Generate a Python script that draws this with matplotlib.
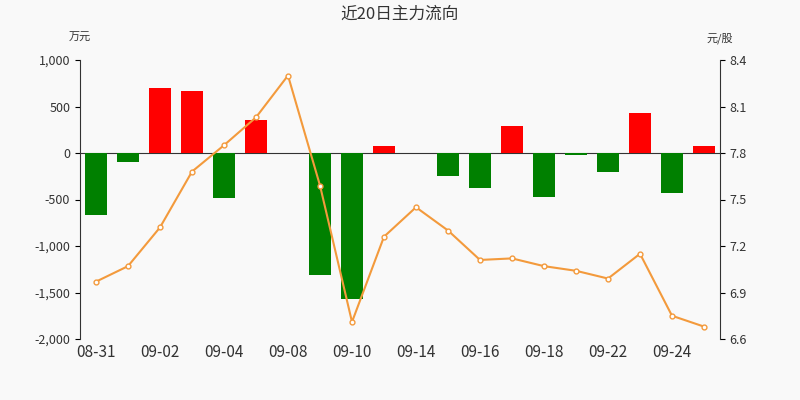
import matplotlib.pyplot as plt
import numpy as np

plt.rcParams['font.family'] = ['Noto Sans CJK SC', 'DejaVu Sans']

dates = ["08-31", "09-01", "09-02", "09-03", "09-04", "09-07", "09-08", "09-09", "09-10", "09-11",
         "09-14", "09-15", "09-16", "09-17", "09-18", "09-21", "09-22", "09-23", "09-24", "09-25"]
flow = [-667, -100, 700, 665, -480, 355, 0, -1310, -1570, 75,
        0, -250, -375, 290, -470, -20, -205, 430, -430, 75]
price = [6.97, 7.07, 7.32, 7.68, 7.85, 8.03, 8.30, 7.59, 6.71, 7.26,
         7.45, 7.30, 7.11, 7.12, 7.07, 7.04, 6.99, 7.15, 6.75, 6.68]

fig = plt.figure(figsize=(8, 4), dpi=100, facecolor="#f9f9f9")
ax = fig.add_axes([0.1, 0.1525, 0.8, 0.6975])
ax.set_facecolor("#f9f9f9")
x = np.arange(len(dates))
colors = ["#ff0000" if v > 0 else "#008000" for v in flow]
ax.bar(x, flow, width=0.7, color=colors, zorder=2)
ax.axhline(0, color="#333333", linewidth=0.8, zorder=1)
ax.set_ylim(-2000, 1000)
ax.set_yticks(range(-2000, 1001, 500))
ax.set_yticklabels([f"{v:,}" for v in range(-2000, 1001, 500)], fontsize=9, color="#333333")
ax.set_xlim(-0.5, len(dates) - 0.5)
ax.set_xticks(x[::2])
ax.set_xticklabels(dates[::2], fontsize=11, color="#333333")
for s in ["top", "right"]:
    ax.spines[s].set_visible(False)
ax.spines["left"].set_color("#333333")
ax.spines["bottom"].set_visible(False)
ax.tick_params(axis="x", length=0)

ax2 = ax.twinx()
ax2.plot(x, price, color="#f39a3c", linewidth=1.5, marker="o", markersize=3.5,
         markerfacecolor="white", markeredgecolor="#f39a3c", zorder=3)
ax2.set_ylim(6.6, 8.4)
ax2.set_yticks(np.arange(6.6, 8.41, 0.3))
ax2.set_yticklabels([f"{v:.1f}" for v in np.arange(6.6, 8.41, 0.3)], fontsize=9, color="#333333")
for s in ["top", "left", "bottom"]:
    ax2.spines[s].set_visible(False)
ax2.spines["right"].set_color("#333333")

fig.text(0.5, 0.965, "近20日主力流向", ha="center", va="center", fontsize=12, color="#333333")
fig.text(0.1, 0.905, "万元", ha="center", va="center", fontsize=8, color="#333333")
fig.text(0.9, 0.905, "元/股", ha="center", va="center", fontsize=8, color="#333333")
fig.savefig("out.png", dpi=100, facecolor=fig.get_facecolor())
